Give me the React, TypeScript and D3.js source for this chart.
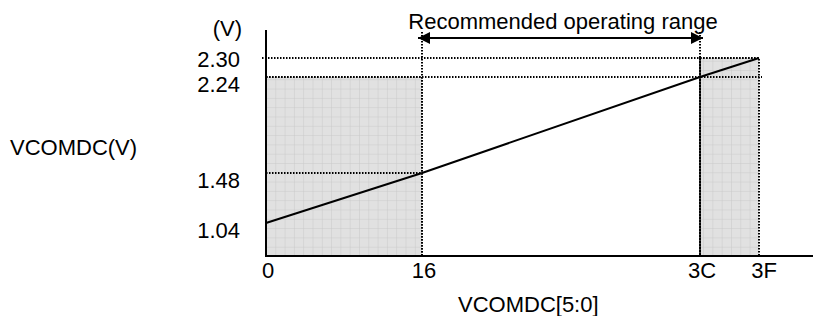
import React, { useEffect, useRef } from 'react';
import * as d3 from 'd3';

// register codes (hex) and the VCOMDC voltage they give
const codes = [0x00, 0x16, 0x3c, 0x3f];
const codeLabels = ['0', '16', '3C', '3F'];
const volts = [1.04, 1.48, 2.24, 2.3];
const voltLabels = ['1.04', '1.48', '2.24', '2.30'];
const rangeLabel = 'Recommended operating range';

export default function App() {
  const svgRef = useRef<SVGSVGElement>(null);

  useEffect(() => {
    if (!svgRef.current) return;
    const W = 813, H = 316;
    const font = 'Liberation Sans, Arial, sans-serif';
    const axisX = 266, axisBottom = 256, axisTop = 30;

    const svg = d3.select(svgRef.current).attr('width', W).attr('height', H).html('');

    // schematic (piecewise) scales, as in the datasheet drawing
    const x = d3.scaleLinear().domain(codes).range([axisX, 422, 700, 759]);
    const y = d3.scaleLinear().domain(volts).range([223, 173, 77, 58]);

    const defs = svg.append('defs');
    const pat = defs.append('pattern').attr('id', 'grid').attr('patternUnits', 'userSpaceOnUse')
      .attr('x', axisX).attr('y', axisBottom).attr('width', 9.3).attr('height', 9.3);
    pat.append('rect').attr('width', 9.3).attr('height', 9.3).attr('fill', '#e1e1e1');
    pat.append('path').attr('d', 'M0,0H9.3M0,0V9.3').attr('stroke', '#c9c9c9').attr('stroke-width', 1).attr('fill', 'none');

    const dotted = (g: d3.Selection<any, any, any, any>) =>
      g.attr('stroke', '#000').attr('stroke-width', 2).attr('stroke-dasharray', '1.5,1.5').attr('fill', 'none');

    // shaded (out of range) areas
    const zones = [[codes[0], codes[1], volts[2]], [codes[2], codes[3], volts[3]]];
    zones.forEach(([a, b, v]) => {
      svg.append('rect').attr('x', x(a)).attr('y', y(v)).attr('width', x(b) - x(a)).attr('height', axisBottom - y(v))
        .call(dotted).attr('fill', 'url(#grid)');
    });

    // guide lines
    svg.append('line').attr('x1', axisX - 4).attr('x2', x(codes[3])).attr('y1', y(volts[3])).attr('y2', y(volts[3])).call(dotted);
    svg.append('line').attr('x1', axisX).attr('x2', x(codes[3]) + 3).attr('y1', y(volts[2])).attr('y2', y(volts[2])).call(dotted);
    svg.append('line').attr('x1', axisX).attr('x2', x(codes[1])).attr('y1', y(volts[1])).attr('y2', y(volts[1])).call(dotted);
    [codes[1], codes[2]].forEach(c => {
      svg.append('line').attr('x1', x(c)).attr('x2', x(c)).attr('y1', 32).attr('y2', axisBottom).call(dotted);
    });

    // axes
    svg.append('line').attr('x1', axisX).attr('x2', axisX).attr('y1', axisTop).attr('y2', axisBottom + 1)
      .attr('stroke', '#000').attr('stroke-width', 2);
    svg.append('line').attr('x1', axisX - 1).attr('x2', W).attr('y1', axisBottom).attr('y2', axisBottom)
      .attr('stroke', '#000').attr('stroke-width', 2);

    // characteristic
    const pts = codes.map((c, i) => [c, volts[i]] as [number, number]);
    svg.append('path').datum(pts)
      .attr('d', d3.line<[number, number]>().x(d => x(d[0])).y(d => y(d[1])))
      .attr('fill', 'none').attr('stroke', '#000').attr('stroke-width', 2);

    // range arrow
    defs.append('marker').attr('id', 'head').attr('viewBox', '0 0 12 12').attr('refX', 12).attr('refY', 6)
      .attr('markerWidth', 12).attr('markerHeight', 12).attr('markerUnits', 'userSpaceOnUse').attr('orient', 'auto-start-reverse')
      .append('path').attr('d', 'M0,0L12,6L0,12Z').attr('fill', '#000');
    const ay = 38;
    svg.append('line').attr('x1', x(codes[1]) - 4).attr('x2', x(codes[2]) + 3).attr('y1', ay).attr('y2', ay)
      .attr('stroke', '#000').attr('stroke-width', 2)
      .attr('marker-start', 'url(#head)').attr('marker-end', 'url(#head)');
    svg.append('text').attr('x', (x(codes[1]) + x(codes[2])) / 2 + 2).attr('y', 29)
      .attr('text-anchor', 'middle').attr('font-family', font).attr('font-size', 22).text(rangeLabel);

    // y labels, shifted up when they would collide
    const ly = volts.map(v => y(v) + 15);
    for (let i = 1; i < ly.length; i++) if (ly[i] > ly[i - 1] - 25) ly[i] = ly[i - 1] - 25;
    voltLabels.forEach((t, i) => {
      svg.append('text').attr('x', 240).attr('y', ly[i]).attr('text-anchor', 'end')
        .attr('font-family', font).attr('font-size', 22).text(t);
    });
    svg.append('text').attr('x', 242).attr('y', 36).attr('text-anchor', 'end')
      .attr('font-family', font).attr('font-size', 22).text('(V)');
    svg.append('text').attr('x', 10).attr('y', 155).attr('font-family', font).attr('font-size', 22).text('VCOMDC(V)');

    // x labels
    codeLabels.forEach((t, i) => {
      svg.append('text').attr('x', x(codes[i]) + (i === codes.length - 1 ? 5 : 2)).attr('y', 278).attr('text-anchor', 'middle')
        .attr('font-family', font).attr('font-size', 22).text(t);
    });
    svg.append('text').attr('x', 458).attr('y', 312).attr('font-family', font).attr('font-size', 22).text('VCOMDC[5:0]');
  }, []);

  return (
    <div style={{ position: 'fixed', left: 0, top: 0, background: '#fff' }}>
      <svg ref={svgRef} style={{ display: 'block' }}></svg>
    </div>
  );
}
